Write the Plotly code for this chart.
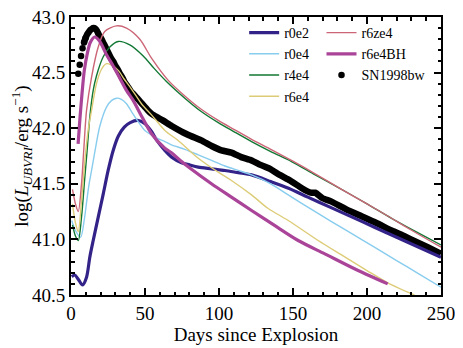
import plotly.graph_objects as go

# ---- model light curves (days since explosion, log L) ----
r0e2_t = [0.5, 2.5, 5, 7.8, 10.5, 12.7, 15, 18.4, 21.8, 25.1, 28.5, 32, 36, 40, 45, 50,
          54.4, 58, 63.4, 68, 74.7, 80, 86, 95, 104, 113, 122, 135, 147, 160, 175, 190,
          205, 220, 235, 250]
r0e2_l = [40.665, 40.68, 40.64, 40.59, 40.66, 40.84, 40.99, 41.20, 41.41, 41.62, 41.80, 41.93,
          42.01, 42.05, 42.07, 42.04, 41.97, 41.89, 41.80, 41.74, 41.69, 41.67, 41.65, 41.635,
          41.62, 41.60, 41.58, 41.52, 41.46, 41.38, 41.29, 41.20, 41.11, 41.02, 40.93, 40.84]

r0e4_t = [0.5, 3, 6.5, 9, 10.5, 12, 13.9, 16, 19.5, 24, 27.5, 30.7, 34, 37.5, 40.9, 44.3,
          49.9, 54.4, 58, 63.4, 67.9, 76.9, 86, 95, 104, 113, 122, 135, 146.8, 160, 176, 190,
          205, 220, 235, 250]
r0e4_l = [41.17, 41.08, 41.02, 41.18, 41.33, 41.48, 41.62, 41.78, 42.02, 42.19, 42.25, 42.27,
          42.26, 42.22, 42.15, 42.08, 41.98, 41.94, 41.91, 41.88, 41.85, 41.81, 41.76, 41.71,
          41.66, 41.62, 41.58, 41.50, 41.40, 41.29, 41.16, 41.05, 40.93, 40.81, 40.69, 40.57]

r4e4_t = [1, 3, 4.9, 7.1, 9.3, 10.9, 12.7, 15, 17.2, 21.7, 26.2, 31.9, 39.7, 48.8, 56, 64.5,
          76.9, 88, 99.5, 110, 122, 135, 149, 165, 182.8, 200, 216.6, 233, 250]
r4e4_l = [41.13, 41.03, 40.99, 41.20, 41.55, 41.80, 42.10, 42.34, 42.47, 42.64, 42.73, 42.78,
          42.75, 42.65, 42.54, 42.42, 42.27, 42.15, 42.05, 41.97, 41.88, 41.79, 41.70, 41.58,
          41.45, 41.32, 41.19, 41.07, 40.95]

r6e4_t = [1, 3, 4.9, 7.1, 9.3, 10.5, 12, 13.9, 17.2, 20.6, 24, 27, 31.9, 36, 41, 47.6, 54.4,
          63.4, 72.4, 86, 100, 108.4, 122, 133, 146.8, 167, 182.8, 200, 214, 232]
r6e4_l = [41.32, 41.15, 41.07, 41.35, 41.70, 41.86, 42.02, 42.16, 42.40, 42.53, 42.58, 42.57,
          42.52, 42.44, 42.35, 42.22, 42.12, 41.98, 41.89, 41.73, 41.60, 41.53, 41.40, 41.28,
          41.17, 40.99, 40.86, 40.72, 40.61, 40.50]

r6ze4_t = [1, 3, 4.9, 7.1, 8.6, 10.5, 13.9, 18.4, 22.8, 30.7, 37.5, 46.5, 54.4, 65.7, 76.9,
           88, 99.5, 110, 122, 135, 149, 165, 182.8, 200, 216.6, 233, 250]
r6ze4_l = [41.45, 41.32, 41.25, 41.50, 41.80, 42.16, 42.46, 42.73, 42.87, 42.92, 42.90, 42.80,
           42.63, 42.43, 42.29, 42.17, 42.07, 41.99, 41.90, 41.81, 41.71, 41.59, 41.45, 41.32,
           41.19, 41.06, 40.93]

r6e4bh_t = [4.8, 6, 7.5, 9, 11, 13, 16, 19.5, 24, 28.5, 33, 37.5, 42, 48, 54.4, 63.4, 67.9,
            74.7, 81.4, 94.9, 108.4, 122, 137, 153.5, 171.5, 194, 214]
r6e4bh_l = [41.86, 42.08, 42.32, 42.52, 42.67, 42.77, 42.82, 42.78, 42.66, 42.56, 42.45, 42.34,
            42.25, 42.10, 41.95, 41.82, 41.78, 41.70, 41.63, 41.50, 41.38, 41.26, 41.13, 40.99,
            40.87, 40.72, 40.60]

# ---- SN1998bw observations ----
sn_t = [4.9, 5.9, 6.8, 7.8, 8.8, 9.8, 10.8, 11.8, 12.8, 13.8, 14.8, 15.8, 16.8, 17.8, 18.8,
        19.8, 21, 22.5, 24, 25.5, 27, 28.5, 30, 31.5, 33, 34.5, 36, 37.5, 39, 40.5, 42, 44, 46,
        48, 50, 52, 54.4, 58, 62, 68, 74.7, 81, 88, 95, 101.7, 108.4, 115, 122, 128, 135, 141,
        148, 156, 162, 165, 170, 176, 186, 196, 206, 216.6, 225, 233, 241, 250]
sn_l = [42.49, 42.57, 42.65, 42.72, 42.77, 42.81, 42.84, 42.86, 42.88, 42.89, 42.90, 42.90,
        42.89, 42.87, 42.84, 42.82, 42.79, 42.75, 42.71, 42.67, 42.63, 42.60, 42.56, 42.53,
        42.49, 42.46, 42.42, 42.39, 42.36, 42.33, 42.31, 42.28, 42.25, 42.22, 42.19, 42.16,
        42.13, 42.10, 42.07, 42.02, 41.97, 41.93, 41.89, 41.84, 41.80, 41.78, 41.74, 41.71,
        41.67, 41.63, 41.58, 41.53, 41.46, 41.42, 41.42, 41.37, 41.34, 41.27, 41.21, 41.15,
        41.08, 41.03, 40.98, 40.93, 40.87]

FONT = "Liberation Serif"

fig = go.Figure()

models = [
    ("r0e2", r0e2_t, r0e2_l, "#332288", 3.2, "legend"),
    ("r0e4", r0e4_t, r0e4_l, "#88ccee", 1.4, "legend"),
    ("r4e4", r4e4_t, r4e4_l, "#117733", 1.4, "legend"),
    ("r6e4", r6e4_t, r6e4_l, "#ddcc77", 1.4, "legend"),
    ("r6ze4", r6ze4_t, r6ze4_l, "#cc6677", 1.4, "legend2"),
    ("r6e4BH", r6e4bh_t, r6e4bh_l, "#aa4499", 3.2, "legend2"),
]

# the dense observations merge into a thick band
fig.add_trace(go.Scatter(
    x=sn_t[4:], y=sn_l[4:], mode="lines",
    line=dict(color="black", width=6.5, shape="spline", smoothing=0.5),
    showlegend=False, hoverinfo="skip",
))

for name, t, l, col, w, lg in models:
    fig.add_trace(go.Scatter(
        x=t, y=l, mode="lines", name=name,
        line=dict(color=col, width=w, shape="spline", smoothing=0.8),
        legend=lg,
    ))

# early separated points
fig.add_trace(go.Scatter(
    x=sn_t[:6], y=sn_l[:6], mode="markers", name="SN1998bw",
    marker=dict(color="black", size=6.5),
    legend="legend2",
))

axis_common = dict(
    showline=True, linecolor="black", linewidth=2, mirror="allticks",
    ticks="inside", ticklen=7, tickwidth=1.5, tickcolor="black",
    showgrid=False, zeroline=False, automargin=False,
    ticklabeloverflow="allow",
    tickfont=dict(family=FONT, size=19, color="black"),
)

fig.update_xaxes(
    range=[0, 250], tick0=0, dtick=50,
    minor=dict(dtick=10, ticks="inside", ticklen=3.5, tickcolor="black"),
    title=dict(text="Days since Explosion", font=dict(family=FONT, size=19, color="black"),
               standoff=3),
    **axis_common,
)
fig.update_yaxes(
    range=[40.5, 43.0], tick0=40.5, dtick=0.5, tickformat=".1f",
    minor=dict(dtick=0.1, ticks="inside", ticklen=3.5, tickcolor="black"),
    title=dict(text="log(<i>L</i><sub><i>UBVRI</i></sub>/erg s<sup>\u22121</sup>)",
               font=dict(family=FONT, size=19, color="black"), standoff=3),
    **axis_common,
)

leg_common = dict(
    bgcolor="rgba(0,0,0,0)", borderwidth=0, xanchor="left", yanchor="top",
    font=dict(family=FONT, size=14, color="black"), tracegroupgap=0,
)

# page body adds a small offset, so the figure is sized to fit the window
fig.update_layout(
    width=455, height=340,
    margin=dict(l=63, r=22, t=9, b=53),
    plot_bgcolor="white", paper_bgcolor="white",
    legend=dict(x=0.468, y=1.0, **leg_common),
    legend2=dict(x=0.677, y=1.0, **leg_common),
)

fig.write_html("out.html")
